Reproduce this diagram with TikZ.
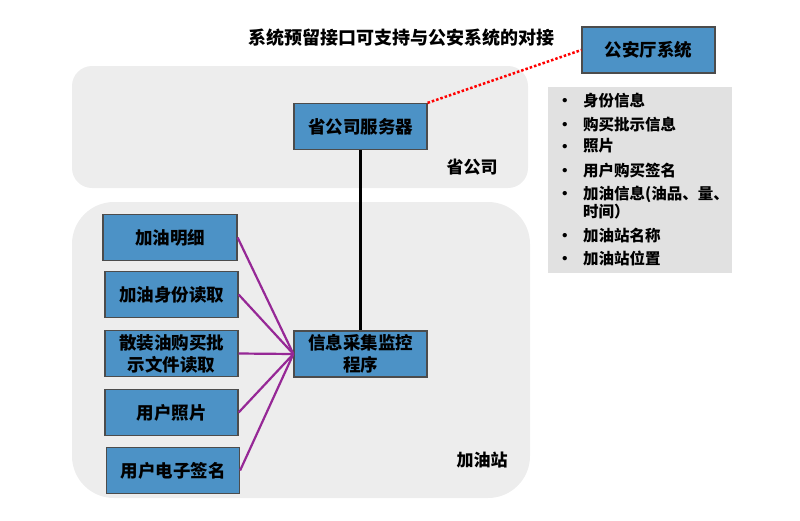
\documentclass[tikz,border=0pt]{standalone}
\usepackage{fontspec}
\setmainfont{Noto Sans CJK SC}
\usetikzlibrary{positioning}
\definecolor{boxblue}{RGB}{76,146,198}
\definecolor{panelgray}{RGB}{237,237,237}
\definecolor{listgray}{RGB}{225,225,225}
\definecolor{linkpurple}{RGB}{150,40,150}

\tikzset{
  bluebox/.style={draw=black!70, fill=boxblue, line width=1.2pt,
    minimum width=133pt, minimum height=46pt, inner sep=2pt,
    align=center, font=\fontsize{17.5}{22}\selectfont\bfseries},
  panel/.style={fill=panelgray},
  panellabel/.style={font=\fontsize{17}{20}\selectfont\bfseries},
  listitem/.style={anchor=west, inner sep=0pt, align=left,
    font=\fontsize{15.5}{18.5}\selectfont\bfseries},
  feed/.style={linkpurple, line width=2.2pt},
}

\begin{document}
\begin{tikzpicture}[x=1pt, y=-1pt]
    \useasboundingbox (0,0) rectangle (800,520);
    % panels
    \fill[panel, rounded corners=20pt] (72,66) rectangle (528,188);
    \fill[panel, rounded corners=42pt] (72,202) rectangle (530,498);
    \node[panellabel] (provlabel) at (472,167) {省公司};
    \node[panellabel] (stationlabel) at (482,460) {加油站};

    % title and police side
    \node[font=\fontsize{18}{20}\selectfont\bfseries] (title) at (401,38)
        {系统预留接口可支持与公安系统的对接};
    \node[bluebox] (police) at (648.5,50) {公安厅系统};
    \fill[listgray] (548,87) rectangle (732,273);
    \foreach \y/\txt in {102/身份信息, 126/购买批示信息, 148/照片, 172/用户购买签名,
        195/{加油信息(油品、量、\\时间）}, 237/加油站名称, 260/加油站位置}{
        \node[listitem] at (557,\y) {\textbullet};
        \node[listitem, anchor=north west] at (583,\y-9.5) {\txt};
    }

    % servers
    \node[bluebox] (server) at (360.5,126.5) {省公司服务器};
    \node[bluebox] (collect) at (360.5,354) {信息采集监控\\程序};

    % station data boxes
    \node[bluebox, minimum width=134pt] (detail) at (170,237.5) {加油明细};
    \node[bluebox] (idread) at (171.5,294.5) {加油身份读取};
    \node[bluebox] (permit) at (171.5,353.5) {散装油购买批\\示文件读取};
    \node[bluebox] (photo) at (171.5,412.5) {用户照片};
    \node[bluebox] (sign) at (173,470.5) {用户电子签名};

    \draw[line width=2.5pt] (server.south) -- (collect.north);
    \draw[red, dotted, line width=2.5pt] (server.north east) -- (police.west);
    \foreach \n in {detail, idread, permit, photo, sign}{
        \draw[feed] (\n.east) -- (collect.west);
    }
\end{tikzpicture}
\end{document}
